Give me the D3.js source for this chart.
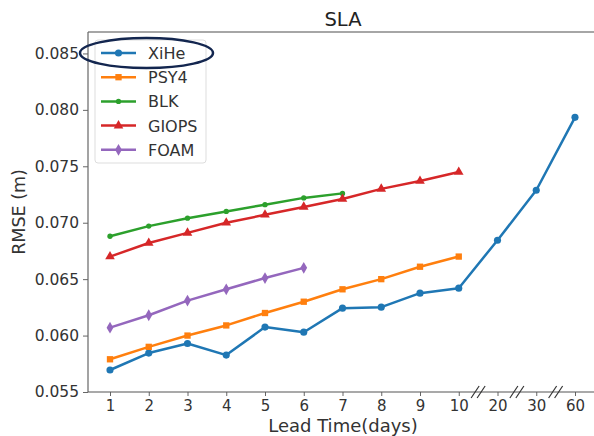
<!DOCTYPE html>
<html>
<head>
<meta charset="utf-8">
<script src="https://cdn.jsdelivr.net/npm/d3@7"></script>
<style>
body { margin: 0; background: #fff; }
text { font-family: "DejaVu Sans", sans-serif; }
</style>
</head>
<body>
<div id="chart"></div>
<script>
var leadTimes = ["1","2","3","4","5","6","7","8","9","10","20","30","60"];
var yTicks = [0.055, 0.060, 0.065, 0.070, 0.075, 0.080, 0.085];

var xihe  = [0.05695, 0.05845, 0.0593, 0.05827, 0.06075, 0.0603, 0.06243, 0.06252, 0.06376, 0.0642, 0.06845, 0.07288, 0.07934];
var psy4  = [0.0579, 0.0590, 0.0600, 0.0609, 0.0620, 0.0630, 0.0641, 0.0650, 0.0661, 0.0670];
var blk   = [0.0688, 0.0697, 0.0704, 0.0710, 0.0716, 0.0722, 0.0726];
var giops = [0.0670, 0.0682, 0.0691, 0.0700, 0.0707, 0.0714, 0.0721, 0.0730, 0.0737, 0.0745];
var foam  = [0.0607, 0.0618, 0.0631, 0.0641, 0.0651, 0.0660];

var seriesNames = ["XiHe","PSY4","BLK","GIOPS","FOAM"];
var seriesData = [xihe, psy4, blk, giops, foam];
var colors = ["#1f77b4","#ff7f0e","#2ca02c","#d62728","#9467bd"];
var symbols = [d3.symbolCircle, d3.symbolSquare, d3.symbolCircle, d3.symbolTriangle, d3.symbolDiamond];
var symSizes = [40, 40, 22, 40, 40];

var svg = d3.select("#chart").append("svg")
  .attr("width", 594)
  .attr("height", 436);

var plotLeft = 88, plotTop = 32, plotBottom = 392, plotRight = 600;

var x = d3.scalePoint().domain(leadTimes).range([110, 575]);
var y = d3.scaleLinear().domain([0.055, 0.0869]).range([plotBottom, plotTop]);

// spines
svg.append("line").attr("x1",plotLeft).attr("x2",plotRight).attr("y1",plotTop).attr("y2",plotTop)
  .attr("stroke","#888").attr("stroke-width",1.5);
svg.append("line").attr("x1",plotLeft).attr("x2",plotLeft).attr("y1",plotTop).attr("y2",plotBottom)
  .attr("stroke","#666").attr("stroke-width",1.2);

// x axis
var xAxis = svg.append("g")
  .attr("transform","translate(0," + plotBottom + ")")
  .call(d3.axisBottom(x).tickSize(4).tickPadding(4));
xAxis.select(".domain").remove();
xAxis.append("line").attr("x1",plotLeft).attr("x2",plotRight).attr("stroke","#555").attr("stroke-width",1.2);
xAxis.selectAll(".tick line").attr("stroke","#666");
xAxis.selectAll(".tick text").attr("font-size",15).attr("fill","#333").attr("font-family","DejaVu Sans");

// y axis
var yAxis = svg.append("g")
  .attr("transform","translate(" + plotLeft + ",0)")
  .call(d3.axisLeft(y).tickValues(yTicks).tickFormat(d3.format(".3f")).tickSize(5).tickPadding(4));
yAxis.select(".domain").remove();
yAxis.selectAll(".tick line").attr("stroke","#666");
yAxis.selectAll(".tick text").attr("font-size",15.5).attr("fill","#333").attr("font-family","DejaVu Sans");

// axis break marks
var breaks = [[9,10],[10,11],[11,12]];
breaks.forEach(function(b){
  var mx = (x(leadTimes[b[0]]) + x(leadTimes[b[1]])) / 2;
  [-3, 3].forEach(function(off){
    svg.append("line")
      .attr("x1", mx + off - 4).attr("y1", plotBottom + 6)
      .attr("x2", mx + off + 4).attr("y2", plotBottom - 6)
      .attr("stroke","#333").attr("stroke-width",1.2);
  });
});

// lines
var line = d3.line()
  .x(function(d,i){ return x(leadTimes[i]); })
  .y(function(d){ return y(d); });

seriesData.forEach(function(data, k){
  svg.append("path")
    .attr("d", line(data))
    .attr("fill","none")
    .attr("stroke", colors[k])
    .attr("stroke-width", 2.5)
    .attr("stroke-linejoin","round");
  svg.selectAll("path.m" + k)
    .data(data)
    .enter().append("path")
      .attr("class","m" + k)
      .attr("d", d3.symbol().type(symbols[k]).size(symSizes[k]))
      .attr("transform", function(d,i){ return "translate(" + x(leadTimes[i]) + "," + y(d) + ")"; })
      .attr("fill", colors[k]);
});

// legend
svg.append("rect")
  .attr("x",95).attr("y",40).attr("width",111).attr("height",123)
  .attr("rx",3).attr("fill","#fff").attr("fill-opacity",0.8)
  .attr("stroke","#ddd").attr("stroke-width",1);

seriesNames.forEach(function(name, k){
  var ly = 53 + k * 24.2;
  svg.append("line").attr("x1",101).attr("x2",136).attr("y1",ly).attr("y2",ly)
    .attr("stroke",colors[k]).attr("stroke-width",2.5);
  svg.append("path")
    .attr("d", d3.symbol().type(symbols[k]).size(symSizes[k]))
    .attr("transform","translate(118.5," + ly + ")")
    .attr("fill", colors[k]);
  svg.append("text").attr("x",148).attr("y",ly + 6)
    .attr("font-size",16).attr("fill","#333").text(name);
});

// highlight ellipse
svg.append("ellipse")
  .attr("cx",146.5).attr("cy",53).attr("rx",66.5).attr("ry",15)
  .attr("fill","none").attr("stroke","#13264f").attr("stroke-width",2.5);

// title and labels
svg.append("text").attr("x",343).attr("y",26).attr("text-anchor","middle")
  .attr("font-size",19.5).attr("fill","#222").text("SLA");
svg.append("text").attr("x",343).attr("y",432).attr("text-anchor","middle")
  .attr("font-size",18).attr("fill","#333").text("Lead Time(days)");
svg.append("text").attr("transform","translate(25,212) rotate(-90)").attr("text-anchor","middle")
  .attr("font-size",17.5).attr("fill","#333").text("RMSE (m)");
</script>
</body>
</html>
